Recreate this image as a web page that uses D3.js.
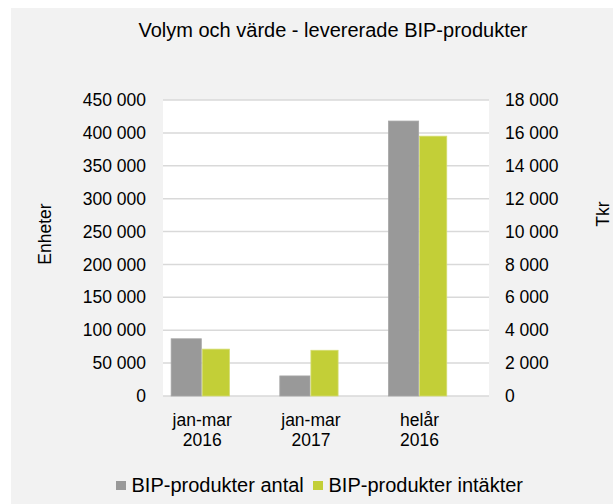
<!DOCTYPE html>
<html>
<head>
<meta charset="utf-8">
<script src="https://cdn.jsdelivr.net/npm/d3@7"></script>
<style>
  body { margin: 0; background: #ffffff; }
  text { font-family: "Liberation Sans", Arial, sans-serif; fill: #000; }
</style>
</head>
<body>
<div id="vis-container"></div>
<script>
// Data
const categories = [["jan-mar", "2016"], ["jan-mar", "2017"], ["helår", "2016"]];
const antal = [87000, 30500, 418000];     // Enheter (left axis)
const intakter = [2850, 2780, 15800];     // Tkr (right axis)
const leftTicks = [0, 50000, 100000, 150000, 200000, 250000, 300000, 350000, 400000, 450000];
const rightTicks = [0, 2000, 4000, 6000, 8000, 10000, 12000, 14000, 16000, 18000];
const seriesNames = ["BIP-produkter antal", "BIP-produkter intäkter"];
const colors = ["#999999", "#c3cf37"];

const width = 613;
const height = 504;
const margin = { top: 100, right: 124, bottom: 108, left: 163 };

const svg = d3.select("#vis-container")
  .append("svg")
  .attr("width", width)
  .attr("height", height);

// chart background
svg.append("rect")
  .attr("x", 11).attr("y", 8)
  .attr("width", width - 11).attr("height", height - 8)
  .attr("fill", "#f2f2f2");

// plot area
svg.append("rect")
  .attr("x", margin.left).attr("y", margin.top)
  .attr("width", width - margin.left - margin.right)
  .attr("height", height - margin.top - margin.bottom)
  .attr("fill", "#ffffff");

const fmt = d => d3.format(",")(d).replace(/,/g, " ");

// Scales
const x0 = d3.scaleBand()
  .domain(d3.range(categories.length))
  .range([margin.left, width - margin.right])
  .paddingInner(0.15)
  .paddingOuter(0.075);

// third slot left empty, like the reference layout
const x1 = d3.scaleBand()
  .domain([0, 1, 2])
  .range([0, x0.bandwidth()])
  .paddingInner(0.03);

const yL = d3.scaleLinear().domain([0, 450000]).range([height - margin.bottom, margin.top]);
const yR = d3.scaleLinear().domain([0, 18000]).range([height - margin.bottom, margin.top]);

// Gridlines
svg.append("g")
  .selectAll("line")
  .data(leftTicks)
  .join("line")
  .attr("x1", margin.left)
  .attr("x2", width - margin.right)
  .attr("y1", d => yL(d))
  .attr("y2", d => yL(d))
  .attr("stroke", "#d9d9d9")
  .attr("stroke-width", 1.5);

// Left axis
svg.append("g")
  .attr("transform", `translate(${margin.left},0)`)
  .call(d3.axisLeft(yL).tickValues(leftTicks).tickFormat(fmt).tickSize(0).tickPadding(17))
  .call(g => g.select(".domain").remove())
  .selectAll("text")
  .attr("font-size", "17.5px")
  .attr("font-family", "Liberation Sans, Arial, sans-serif");

// Right axis
svg.append("g")
  .attr("transform", `translate(${width - margin.right},0)`)
  .call(d3.axisRight(yR).tickValues(rightTicks).tickFormat(fmt).tickSize(0).tickPadding(16))
  .call(g => g.select(".domain").remove())
  .selectAll("text")
  .attr("font-size", "17.5px")
  .attr("font-family", "Liberation Sans, Arial, sans-serif");

// Bars
const groups = svg.append("g")
  .selectAll("g")
  .data(categories)
  .join("g")
  .attr("transform", (d, i) => `translate(${x0(i)},0)`);

groups.append("rect")
  .attr("x", x1(0))
  .attr("y", (d, i) => yL(antal[i]))
  .attr("width", x1.bandwidth())
  .attr("height", (d, i) => yL(0) - yL(antal[i]))
  .attr("fill", colors[0])
  .attr("stroke", "#a6a6a6")
  .attr("stroke-width", 0.8);

groups.append("rect")
  .attr("x", x1(1))
  .attr("y", (d, i) => yR(intakter[i]))
  .attr("width", x1.bandwidth() - 3)
  .attr("height", (d, i) => yR(0) - yR(intakter[i]))
  .attr("fill", colors[1])
  .attr("stroke", "#d4dc70")
  .attr("stroke-width", 0.8);

// category labels
groups.append("text")
  .attr("text-anchor", "middle")
  .attr("font-size", "17.5px")
  .selectAll("tspan")
  .data(d => d)
  .join("tspan")
  .attr("x", x1(1))
  .attr("y", (d, i) => 426 + i * 19.5)
  .text(d => d);

// Title
svg.append("text")
  .attr("x", 333)
  .attr("y", 37)
  .attr("text-anchor", "middle")
  .attr("font-size", "20px")
  .text("Volym och värde - levererade BIP-produkter");

// Axis titles
svg.append("text")
  .attr("transform", "translate(51,234) rotate(-90)")
  .attr("text-anchor", "middle")
  .attr("font-size", "17.5px")
  .text("Enheter");

svg.append("text")
  .attr("transform", "translate(609,214) rotate(-90)")
  .attr("text-anchor", "middle")
  .attr("font-size", "17.5px")
  .text("Tkr");

// Legend
const legendX = [116, 313];
const legend = svg.append("g")
  .selectAll("g")
  .data(seriesNames)
  .join("g")
  .attr("transform", (d, i) => `translate(${legendX[i]},481)`);

legend.append("rect")
  .attr("width", 10).attr("height", 9)
  .attr("fill", (d, i) => colors[i]);

legend.append("text")
  .attr("x", 15.5)
  .attr("y", 10.5)
  .attr("font-size", "20px")
  .text(d => d);
</script>
</body>
</html>
